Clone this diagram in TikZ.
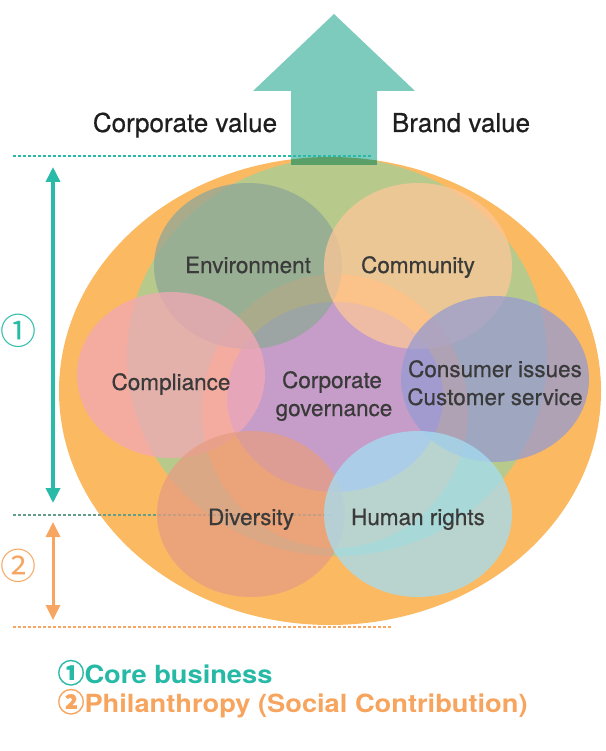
\documentclass[tikz,border=0pt]{standalone}
\usepackage{fontspec}
\setmainfont{TeX Gyre Heros}
\newfontfamily\cjk{Noto Sans CJK JP}
\newfontfamily\cjknum[FakeBold=0.8]{Noto Sans CJK JP}
\newfontfamily\labelfont[FakeBold=0.6]{TeX Gyre Heros}
\newfontfamily\legendfont[FakeStretch=1.09]{TeX Gyre Heros}
\usetikzlibrary{arrows.meta}

\definecolor{outerorange}{RGB}{251,185,98}
\definecolor{coregreen}{RGB}{183,202,139}
\definecolor{govpurple}{RGB}{198,157,200}
\definecolor{envcol}{RGB}{143,167,152}
\definecolor{comcol}{RGB}{252,198,152}
\definecolor{cmpcol}{RGB}{243,168,181}
\definecolor{concol}{RGB}{150,155,210}
\definecolor{divcol}{RGB}{230,157,131}
\definecolor{humcol}{RGB}{164,222,243}
\definecolor{arrowteal}{RGB}{125,203,189}
\definecolor{arrowdark}{RGB}{90,158,104}
\definecolor{lineteal}{RGB}{42,187,168}
\definecolor{linemid}{RGB}{100,158,138}
\definecolor{lineorange}{RGB}{246,166,96}
\definecolor{labelgray}{RGB}{58,58,58}
\definecolor{legteal}{RGB}{38,185,166}
\definecolor{legorange}{RGB}{246,164,94}

\tikzset{
  bubble/.style={fill opacity=0.75},
  topic/.style={anchor=base, text=labelgray, font=\labelfont\fontsize{22.5}{27}\selectfont},
  headline/.style={anchor=base, text=black!88, font=\labelfont\fontsize{26}{30}\selectfont},
  dotline/.style={line width=2pt, dash pattern=on 2.7pt off 2.3pt},
  span/.style={line width=3.2pt, {Triangle[width=14pt,length=15pt]}-{Triangle[width=14pt,length=15pt]}},
  bignum/.style={anchor=west, inner sep=0pt, font=\cjk\fontsize{36}{40}\selectfont},
  legend/.style={anchor=base west, font=\legendfont\bfseries\fontsize{25}{30}\selectfont}
}
\newcommand{\legnum}[1]{{\cjknum\fontsize{27}{30}\selectfont #1}}

\begin{document}
\begin{tikzpicture}[x=1pt,y=-1pt]
\useasboundingbox (0,0) rectangle (605,751);

% outer field, core field, governance ring and centre
\fill[outerorange] (330,391) ellipse [x radius=271pt, y radius=234pt];
\fill[coregreen] (337,357) ellipse [x radius=210pt, y radius=199pt];
\fill[outerorange] (335,411) ellipse [x radius=133pt, y radius=137pt];
\fill[govpurple] (335,397) ellipse [x radius=108pt, y radius=95pt];

% divider between core business and philanthropy
\coordinate (midL) at (13,515);
\coordinate (midR) at (333,515);
\draw[dotline, linemid] (midL) -- (midR);

% topic bubbles
\fill[envcol, bubble] (248,266) ellipse [x radius=94pt, y radius=83pt];
\fill[comcol, bubble] (418,266) ellipse [x radius=94pt, y radius=83pt];
\fill[cmpcol, bubble] (171,375) ellipse [x radius=94pt, y radius=83pt];
\fill[concol, bubble] (495,379) ellipse [x radius=94pt, y radius=83pt];
\fill[divcol, bubble] (251,514) ellipse [x radius=94pt, y radius=83pt];
\fill[humcol, bubble] (418,514) ellipse [x radius=94pt, y radius=83pt];

% value arrow
\fill[arrowteal] (291,165) -- (291,91) -- (253,91) -- (334,14) -- (415,91)
  -- (377,91) -- (377,165) -- cycle;
\begin{scope}
  \clip (330,391) ellipse [x radius=271pt, y radius=234pt];
  \fill[arrowdark] (291,140) rectangle (377,165);
\end{scope}

% guide lines
\coordinate (topL) at (13,156);
\coordinate (topR) at (371,156);
\draw[dotline, lineteal] (topL) -- (topR);
\coordinate (botL) at (13,627);
\coordinate (botR) at (392,627);
\draw[dotline, lineorange] (botL) -- (botR);

% span arrows
\coordinate (coreTop) at (53,167);
\coordinate (coreBot) at (53,503);
\draw[span, lineteal, line width=3.5pt] (coreTop) -- (coreBot);
\coordinate (philTop) at (53,522);
\coordinate (philBot) at (53,620);
\draw[span, lineorange, line width=3pt] (philTop) -- (philBot);
\node[bignum, text=lineteal] (numA) at (0.5,331) {①};
\node[bignum, text=lineorange] (numB) at (0.5,566) {②};

% headlines
\node[headline] (corpval) at (185,132) {Corporate value};
\node[headline] (brandval) at (461,132) {Brand value};

% topic labels
\node[topic] (env) at (248,273) {Environment};
\node[topic] (com) at (418,273) {Community};
\node[topic] (cmp) at (171,390) {Compliance};
\node[topic] (gov1) at (332,388) {Corporate};
\node[topic] (gov2) at (334,416) {governance};
\node[topic] (con1) at (495,377) {Consumer issues};
\node[topic] (con2) at (495,405) {Customer service};
\node[topic] (div) at (251,525) {Diversity};
\node[topic] (hum) at (418,525) {Human rights};

% legend
\node[legend, text=legteal] (legA) at (54,683) {\legnum{①}Core business};
\node[legend, text=legorange] (legB) at (54,712) {\legnum{②}Philanthropy (Social Contribution)};
\end{tikzpicture}
\end{document}
